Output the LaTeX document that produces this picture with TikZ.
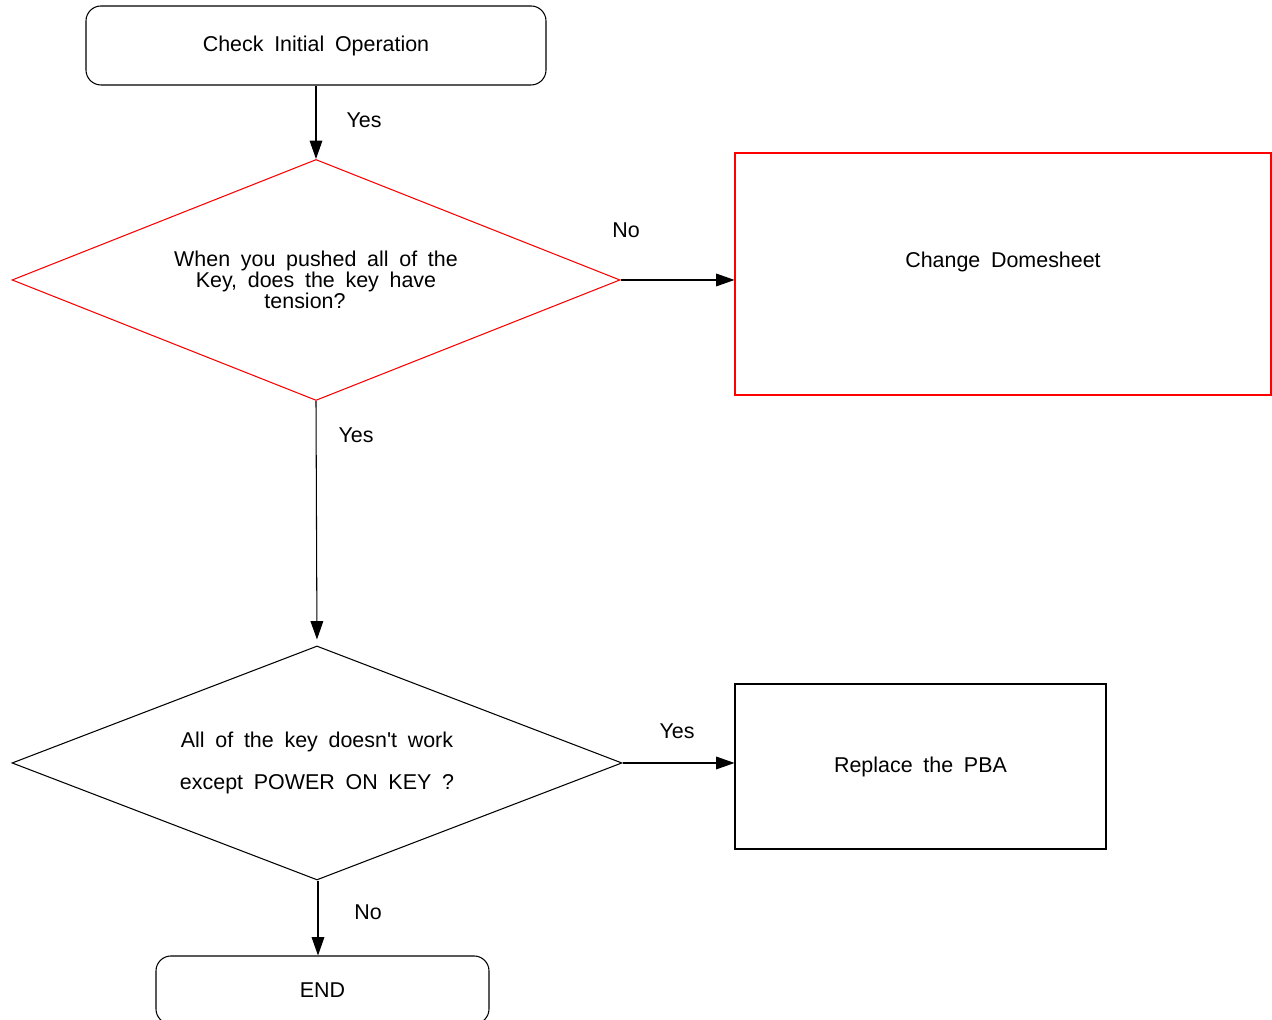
\documentclass[tikz,border=0pt]{standalone}
\usepackage{fontspec}
\setmainfont{Liberation Sans}[WordSpace=1.8, Ligatures=TeXOff]
\usetikzlibrary{shapes.geometric,arrows.meta}

\begin{document}
\begin{tikzpicture}[
    txt/.style={font=\fontsize{6.1}{6}\selectfont},
    term/.style={txt, draw, rounded corners=.15cm, line width=.3pt},
    stepbox/.style={txt, draw, line width=.3pt},
    ask/.style={txt, draw, diamond, aspect=2.5, inner sep=0pt, align=center, line width=.3pt},
    arr/.style={-{Triangle[length=5.2pt, width=3.6pt]}, line width=.3pt}
        ]

    \path [use as bounding box] (0,0) rectangle (12.72,10.2);

    \node (check) at (3.16,9.745) [term, minimum width=4.6cm, minimum height=.79cm] {Check Initial Operation};

    \node (keyask) at (3.16,7.40) [ask, red, text=black, minimum width=6.08cm, minimum height=2.41cm]
        {When you pushed all of the\\Key, does the key have\\tension?\hspace*{.22cm}};

    \node (dome) at (10.03,7.46) [stepbox, red, minimum width=5.36cm, minimum height=2.42cm] {};
    \node (dometxt) at (10.03,7.58) [txt] {Change Domesheet};

    \node (powerask) at (3.17,2.57) [ask, minimum width=6.10cm, minimum height=2.34cm,
        font=\fontsize{6.1}{12}\selectfont] {All of the key doesn't work\\except POWER ON KEY ?};

    \node (pba) at (9.205,2.535) [stepbox, minimum width=3.71cm, minimum height=1.65cm] {Replace the PBA};

    \node (end) at (3.225,.30) [term, minimum width=3.33cm, minimum height=.68cm] {END};

    \draw [arr] (check.south -| keyask.north) -- (keyask.north);
    \draw [arr] (keyask.east) -- (dome.west |- keyask.east);
    \draw [arr, shorten >=.06cm] (keyask.south) -- (powerask.north);
    \draw [arr] (powerask.east) -- (pba.west |- powerask.east);
    \draw [arr] ([xshift=.01cm]powerask.south) -- ([xshift=.01cm]powerask.south |- end.north);

    \node (yes1) at (3.64,9.00) [txt] {Yes};
    \node (no1) at (6.26,7.90) [txt] {No};
    \node (yes2) at (3.56,5.85) [txt] {Yes};
    \node (yes3) at (6.77,2.89) [txt] {Yes};
    \node (no2) at (3.68,1.08) [txt] {No};

\end{tikzpicture}
\end{document}
